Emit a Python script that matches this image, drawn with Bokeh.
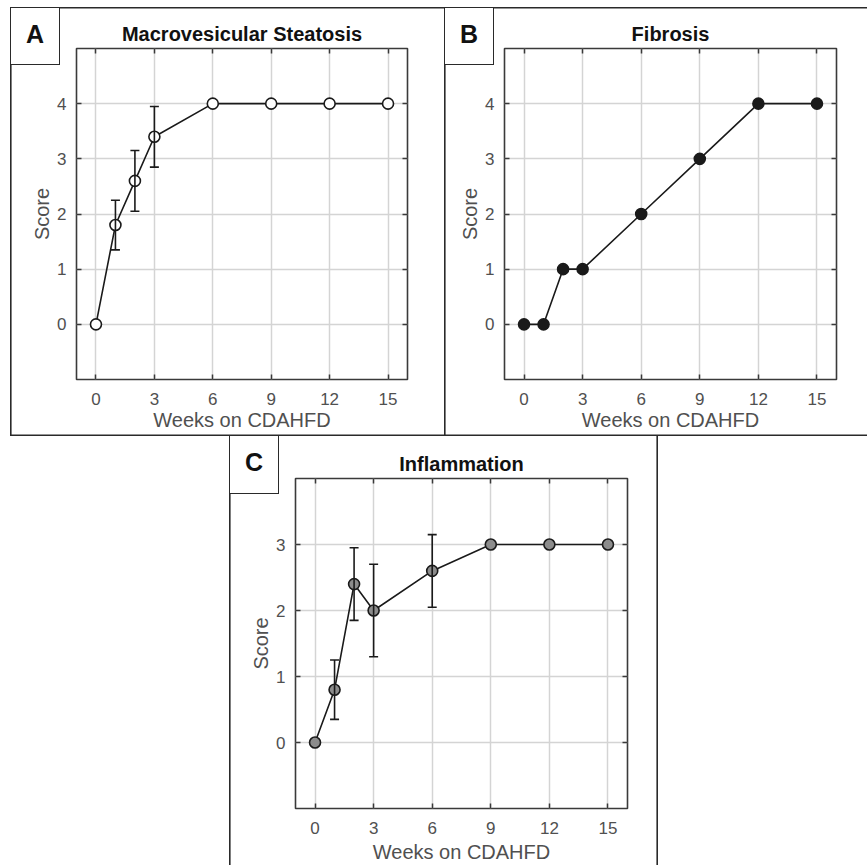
from bokeh.plotting import figure
from bokeh.models import (ColumnDataSource, Whisker, TeeHead, FixedTicker, LinearAxis,
                          Range1d, Spacer, Div)
from bokeh.layouts import row, column
from bokeh.embed import file_html
from bokeh.resources import INLINE

# ---- data ----
weeks = [0, 1, 2, 3, 6, 9, 12, 15]
steatosis = [0, 1.8, 2.6, 3.4, 4, 4, 4, 4]
steatosis_err = [0, 0.45, 0.55, 0.55, 0, 0, 0, 0]
fibrosis = [0, 0, 1, 1, 2, 3, 4, 4]
inflammation = [0, 0.8, 2.4, 2.0, 2.6, 3, 3, 3]
inflammation_err = [0, 0.45, 0.55, 0.7, 0.55, 0, 0, 0]
x_ticks = [0, 3, 6, 9, 12, 15]
y_ticks_ab = [0, 1, 2, 3, 4]
y_ticks_c = [0, 1, 2, 3]
panel_letters = ["A", "B", "C"]
panel_titles = ["Macrovesicular Steatosis", "Fibrosis", "Inflammation"]

FONT = "Liberation Sans"
DARK = "#3a3a3a"
TICKTXT = "#505050"
GRID = "#d4d4d4"
BOXC = "#2a2a2a"


def make_panel(title, yvals, errs, fill, yticks, yrange, width, height, mb, shadow,
               xlab_standoff=1):
    p = figure(width=width, height=height, output_backend="svg", toolbar_location=None,
               x_range=Range1d(-1, 16), y_range=Range1d(*yrange),
               min_border_left=mb[0], min_border_right=mb[1],
               min_border_top=mb[2], min_border_bottom=mb[3],
               background_fill_color="white", border_fill_color=None,
               styles={"box-shadow": shadow})
    p.outline_line_color = DARK
    p.outline_line_width = 1.6
    p.title.text = title
    p.title.align = "center"
    p.title.text_font = FONT
    p.title.text_font_size = "20px"
    p.title.text_font_style = "bold"
    p.title.text_color = "#111111"
    p.title.standoff = 8

    for ax, ticks in ((p.xaxis[0], x_ticks), (p.yaxis[0], yticks)):
        ax.ticker = FixedTicker(ticks=ticks)
        ax.axis_line_color = None
        ax.major_tick_in = 5
        ax.major_tick_out = 0
        ax.major_tick_line_color = DARK
        ax.major_tick_line_width = 1.5
        ax.minor_tick_line_color = None
        ax.major_label_text_font = FONT
        ax.major_label_text_font_size = "17px"
        ax.major_label_text_color = TICKTXT
        ax.axis_label_text_font = FONT
        ax.axis_label_text_font_size = "20px"
        ax.axis_label_text_font_style = "normal"
        ax.axis_label_text_color = TICKTXT
    p.xaxis[0].axis_label = "Weeks on CDAHFD"
    p.yaxis[0].axis_label = "Score"
    p.xaxis[0].major_label_standoff = 13
    p.xaxis[0].axis_label_standoff = xlab_standoff
    p.yaxis[0].major_label_standoff = 10
    p.yaxis[0].axis_label_standoff = 1

    # mirrored ticks on top/right (box style), no labels
    for loc, ticks in (("right", yticks), ("above", x_ticks)):
        ax = LinearAxis(ticker=FixedTicker(ticks=ticks))
        ax.axis_line_color = None
        ax.major_tick_in = 5
        ax.major_tick_out = 0
        ax.major_tick_line_color = DARK
        ax.major_tick_line_width = 1.5
        ax.minor_tick_line_color = None
        ax.major_label_text_font_size = "0px"
        ax.major_label_text_color = None
        ax.major_label_standoff = 0
        p.add_layout(ax, loc)

    p.grid.grid_line_color = GRID
    p.grid.grid_line_width = 1.5
    p.xgrid.ticker = FixedTicker(ticks=x_ticks)
    p.ygrid.ticker = FixedTicker(ticks=yticks)

    src = ColumnDataSource(dict(x=weeks, y=yvals))
    if errs is not None:
        ex = [w for w, e in zip(weeks, errs) if e > 0]
        ey = [v for v, e in zip(yvals, errs) if e > 0]
        ee = [e for e in errs if e > 0]
        esrc = ColumnDataSource(dict(x=ex, lo=[a - b for a, b in zip(ey, ee)],
                                     hi=[a + b for a, b in zip(ey, ee)]))
        w = Whisker(base="x", lower="lo", upper="hi", source=esrc, dimension="height",
                    line_color="#1a1a1a", line_width=1.6, level="glyph",
                    upper_head=TeeHead(size=9, line_color="#1a1a1a", line_width=1.6),
                    lower_head=TeeHead(size=9, line_color="#1a1a1a", line_width=1.6))
        p.add_layout(w)
    p.line("x", "y", source=src, line_color="#1a1a1a", line_width=1.6)
    p.scatter("x", "y", source=src, size=11, fill_color=fill, line_color="#1a1a1a",
              line_width=1.6)
    return p


def letter_box(letter, margin, border_top=True):
    st = {
        "box-sizing": "border-box",
        "border": f"1.6px solid {BOXC}",
        "background": "white",
        "font-family": FONT,
        "font-weight": "bold",
        "font-size": "25px",
        "color": "#111111",
        "text-align": "center",
        "line-height": "53px",
        "z-index": "5",
    }
    if not border_top:
        st["border-top"] = "none"
    return Div(text=letter, width=50, height=58, margin=margin, styles=st)


W = "#ffffff"
shadow_A = (f"inset 0 7px 0 0 {W}, inset 10px 0 0 0 {W}, inset 0 8.6px 0 0 {BOXC}, "
            f"inset 11.6px 0 0 0 {BOXC}, inset 0 -1.6px 0 0 {BOXC}")
shadow_B = (f"inset 0 7px 0 0 {W}, inset 0 8.6px 0 0 {BOXC}, "
            f"inset 1.6px 0 0 0 {BOXC}, inset 0 -1.6px 0 0 {BOXC}")
shadow_C = f"inset 1.6px 0 0 0 {BOXC}, inset -1.6px 0 0 0 {BOXC}"

pA = make_panel(panel_titles[0], steatosis, steatosis_err, "white",
                y_ticks_ab, (-1, 5), 444, 436, (76, 37, 48, 57), shadow_A)
pB = make_panel(panel_titles[1], fibrosis, None, "#1a1a1a",
                y_ticks_ab, (-1, 5), 423, 436, (60, 31, 48, 57), shadow_B)
pC = make_panel(panel_titles[2], inflammation, inflammation_err, "#8c8c8c",
                y_ticks_c, (-1, 4), 429, 429, (66, 31, 42, 56), shadow_C, xlab_standoff=4)

dA = letter_box(panel_letters[0], (7, -60, 0, 10))
dB = letter_box(panel_letters[1], (7, -50, 0, 0))
dC = letter_box(panel_letters[2], (0, -50, 0, 0), border_top=False)

layout = column(row(dA, pA, dB, pB),
                row(Spacer(width=229, height=429), dC, pC))

open("out.html", "w").write(file_html(layout, INLINE))
